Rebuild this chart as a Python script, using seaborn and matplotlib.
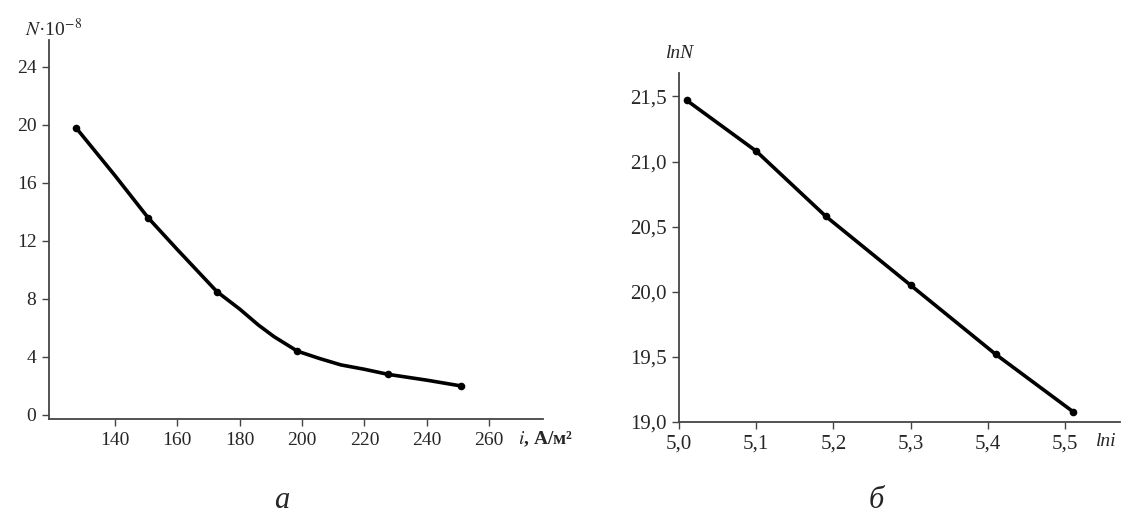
import matplotlib
matplotlib.use("Agg")
import matplotlib.pyplot as plt
import seaborn as sns
import pandas as pd

# panel a: N*10^-8 vs current density i (curve)
i_curve = [127.5, 140, 150.6, 160, 172.7, 180, 186, 191, 198.5, 205.5, 212.5, 220, 227.6, 240, 251]
n_curve = [19.8, 16.5, 13.6, 11.4, 8.5, 7.3, 6.2, 5.4, 4.4, 3.9, 3.45, 3.15, 2.8, 2.4, 2.0]
# measured points drawn as dots
i_points = [127.5, 150.6, 172.7, 198.5, 227.6, 251]
n_points = [19.8, 13.6, 8.5, 4.4, 2.8, 2.0]
a_xticks = [140, 160, 180, 200, 220, 240, 260]
a_yticks = [0, 4, 8, 12, 16, 20, 24]

# panel b: lnN vs lni
lni_vals = [5.01, 5.10, 5.19, 5.30, 5.41, 5.51]
lnn_vals = [21.47, 21.08, 20.58, 20.05, 19.52, 19.08]
b_xticks = [5.0, 5.1, 5.2, 5.3, 5.4, 5.5]
b_yticks = [19.0, 19.5, 20.0, 20.5, 21.0, 21.5]

sns.set_style("ticks")
plt.rcParams["font.family"] = ["Liberation Serif", "DejaVu Serif"]
plt.rcParams["mathtext.fontset"] = "stix"

df_curve = pd.DataFrame({"i": i_curve, "N": n_curve})
df_pts = pd.DataFrame({"i": i_points, "N": n_points})
df_b = pd.DataFrame({"lni": lni_vals, "lnN": lnn_vals})

fig = plt.figure(figsize=(11.21, 5.31), dpi=100)
ax1 = fig.add_axes([0.0437, 0.2109, 0.4407, 0.7138])
ax2 = fig.add_axes([0.6057, 0.2053, 0.3934, 0.6572])

sns.lineplot(data=df_curve, x="i", y="N", ax=ax1, color="black", linewidth=2.6)
sns.scatterplot(data=df_pts, x="i", y="N", ax=ax1, color="black", s=30,
                linewidth=0, zorder=3)
sns.lineplot(data=df_b, x="lni", y="lnN", ax=ax2, color="black", linewidth=2.6,
             marker="o", markersize=5.5, markeredgewidth=0)

ax1.set_xlim(118.8, 277.3)
ax1.set_ylim(-0.28, 25.86)
ax1.set_xticks(a_xticks)
ax1.set_yticks(a_yticks)
ax1.set_xticklabels([str(t) for t in a_xticks])
ax1.set_yticklabels([str(t) for t in a_yticks])

ax2.set_xlim(5.0, 5.571)
ax2.set_ylim(19.0, 21.68)
ax2.set_xticks(b_xticks)
ax2.set_yticks(b_yticks)
ax2.set_xticklabels([f"{t:.1f}".replace(".", ",") for t in b_xticks])
ax2.set_yticklabels([f"{t:.1f}".replace(".", ",") for t in b_yticks])

for ax in (ax1, ax2):
    sns.despine(ax=ax)
    ax.set_xlabel("")
    ax.set_ylabel("")
    for s in ("left", "bottom"):
        ax.spines[s].set_color("#444444")
        ax.spines[s].set_linewidth(1.3)
    ax.tick_params(axis="both", length=5, width=1, color="#444444",
                   labelsize=14, pad=4)
ax2.tick_params(axis="both", labelsize=15)

# axis titles
fig.text(0.022, 0.945, r"$N$·10$^{-8}$", fontsize=14, ha="left", va="center")
fig.text(0.462, 0.172, r"$i$, А/м²", fontsize=14, ha="left", va="center",
         fontweight="bold")
fig.text(0.607, 0.900, "lnN", fontsize=14, style="italic", ha="center", va="center")
fig.text(0.978, 0.168, "lni", fontsize=14, style="italic", ha="left", va="center")

# panel letters
fig.text(0.251, 0.058, "а", fontsize=22, style="italic", ha="center", va="center")
fig.text(0.782, 0.058, "б", fontsize=22, style="italic", ha="center", va="center")

fig.savefig("out.png", dpi=100)
